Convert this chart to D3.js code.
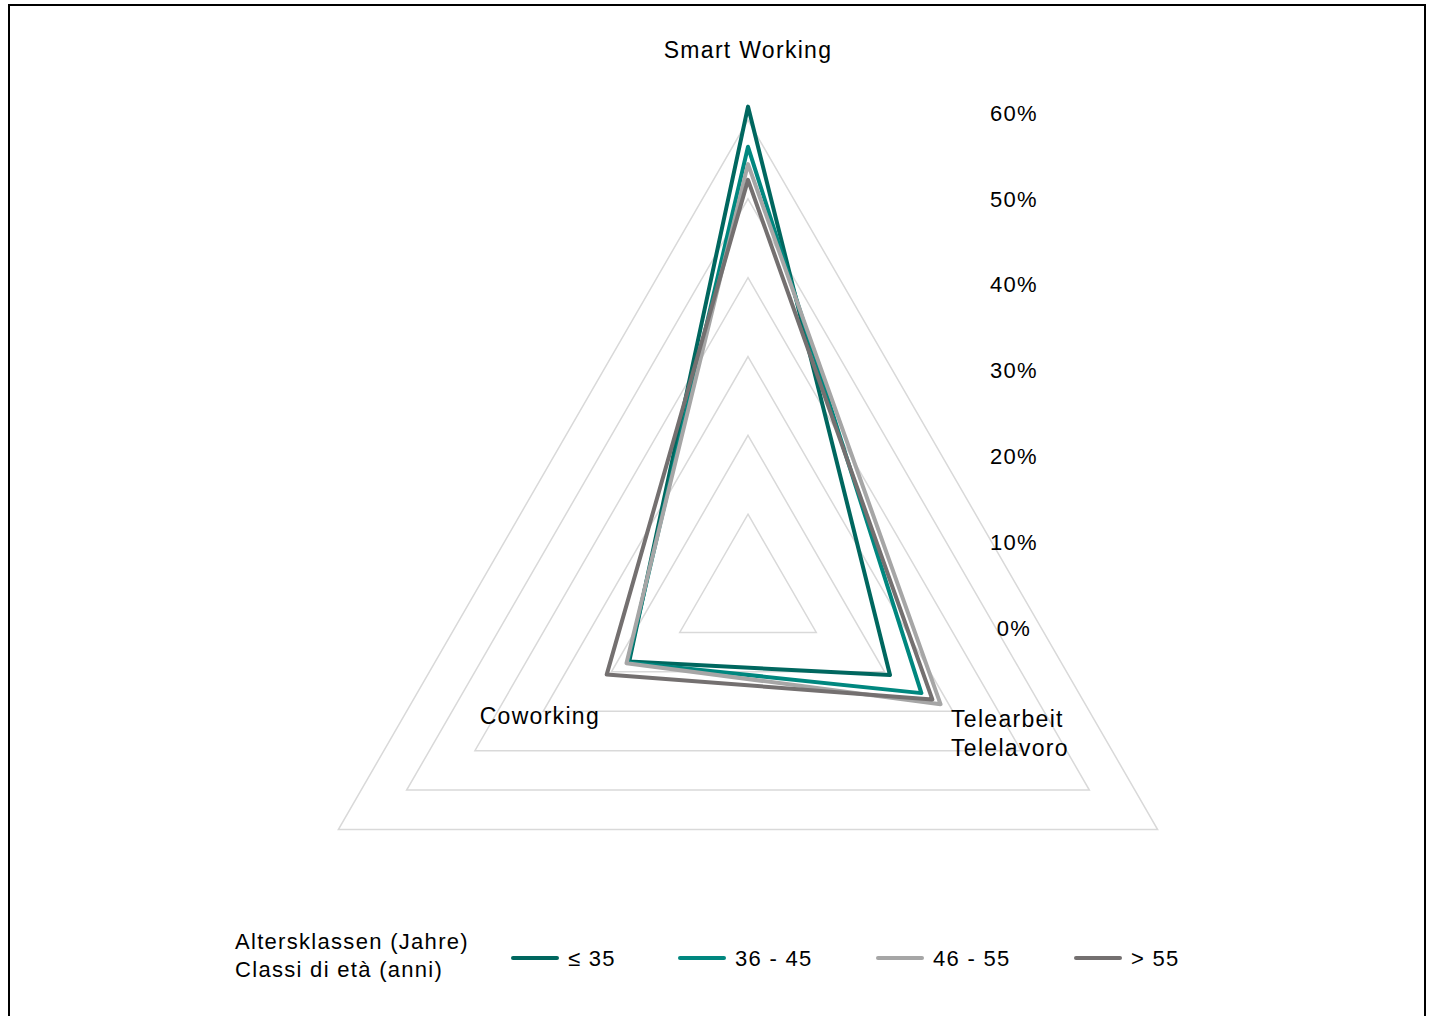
<!DOCTYPE html>
<html>
<head>
<meta charset="utf-8">
<script src="https://cdn.jsdelivr.net/npm/d3@7"></script>
<style>
  html, body { margin: 0; padding: 0; background: #fff; }
  svg { display: block; font-family: "Liberation Sans", Arial, sans-serif; }
  text { letter-spacing: 1.3px; }
</style>
</head>
<body>
<svg id="chart" width="1434" height="1016"></svg>
<script>
// Axes of the radar (clockwise from the top)
const axes = ["Smart Working", "Telearbeit\nTelelavoro", "Coworking"];

// Age classes and their shares (%) per axis
const seriesNames = ["≤ 35", "36 - 45", "46 - 55", "> 55"];
const ageUpTo35   = [61.7, 20.8, 17.4];
const age36to45   = [56.6, 25.4, 17.6];
const age46to55   = [54.4, 28.2, 17.8];
const ageOver55   = [52.4, 27.0, 20.7];
const seriesColors = ["#00675f", "#00877f", "#a6a6a6", "#747070"];

// Value-axis ticks
const tickValues = [0, 10, 20, 30, 40, 50, 60];
const tickLabels = ["0%", "10%", "20%", "30%", "40%", "50%", "60%"];

const legendTitle = ["Altersklassen (Jahre)", "Classi di età (anni)"];

const seriesValues = [ageUpTo35, age36to45, age46to55, ageOver55];

const svg = d3.select("#chart");

// frame
svg.append("rect")
  .attr("x", 9).attr("y", 5)
  .attr("width", 1416).attr("height", 1040)
  .attr("fill", "none").attr("stroke", "#000").attr("stroke-width", 2);

const cx = 748, cy = 593;
const r = d3.scaleLinear().domain([0, 60]).range([0, 473]);
const angle = d3.scaleLinear().domain([0, axes.length]).range([0, 2 * Math.PI]);

const g = svg.append("g").attr("transform", `translate(${cx},${cy})`);

const radial = d3.lineRadial()
  .angle((d, i) => angle(i))
  .radius(d => r(d))
  .curve(d3.curveLinearClosed);

// grid rings
g.append("g").selectAll("path")
  .data(tickValues.filter(v => v > 0))
  .join("path")
  .attr("d", v => radial(axes.map(() => v)))
  .attr("fill", "none")
  .attr("stroke", "#d9d9d9")
  .attr("stroke-width", 1.5);

// series
g.append("g").selectAll("path")
  .data(seriesValues)
  .join("path")
  .attr("d", d => radial(d))
  .attr("fill", "none")
  .attr("stroke", (d, i) => seriesColors[i])
  .attr("stroke-width", 4)
  .attr("stroke-linejoin", "round");

// value labels
const ty = d3.scaleLinear().domain([0, 60]).range([628, 113]);
svg.append("g").selectAll("text")
  .data(tickValues)
  .join("text")
  .attr("x", 1014)
  .attr("y", d => ty(d))
  .attr("dy", "0.35em")
  .attr("text-anchor", "middle")
  .attr("font-size", 22)
  .attr("fill", "#000")
  .text((d, i) => tickLabels[i]);

// axis labels
const axisLabelPos = [
  { x: 748, y: 50, anchor: "middle" },
  { x: 951, y: 719, anchor: "start" },
  { x: 600, y: 716, anchor: "end" }
];
axes.forEach((name, i) => {
  const p = axisLabelPos[i];
  const t = svg.append("text")
    .attr("x", p.x).attr("y", p.y)
    .attr("text-anchor", p.anchor)
    .attr("font-size", 23)
    .attr("fill", "#000");
  name.split("\n").forEach((line, j) => {
    t.append("tspan").attr("x", p.x).attr("dy", j === 0 ? "0.35em" : "1.25em").text(line);
  });
});

// legend
const legend = svg.append("g");
legendTitle.forEach((line, j) => {
  legend.append("text")
    .attr("x", 235).attr("y", 941 + j * 28)
    .attr("dy", "0.35em")
    .attr("font-size", 22)
    .text(line);
});
const legendX = [513, 680, 878, 1076];
seriesNames.forEach((name, i) => {
  const x = legendX[i];
  legend.append("line")
    .attr("x1", x).attr("x2", x + 44)
    .attr("y1", 958).attr("y2", 958)
    .attr("stroke", seriesColors[i])
    .attr("stroke-width", 4)
    .attr("stroke-linecap", "round");
  legend.append("text")
    .attr("x", x + 55).attr("y", 958)
    .attr("dy", "0.35em")
    .attr("font-size", 22)
    .text(name);
});
</script>
</body>
</html>
